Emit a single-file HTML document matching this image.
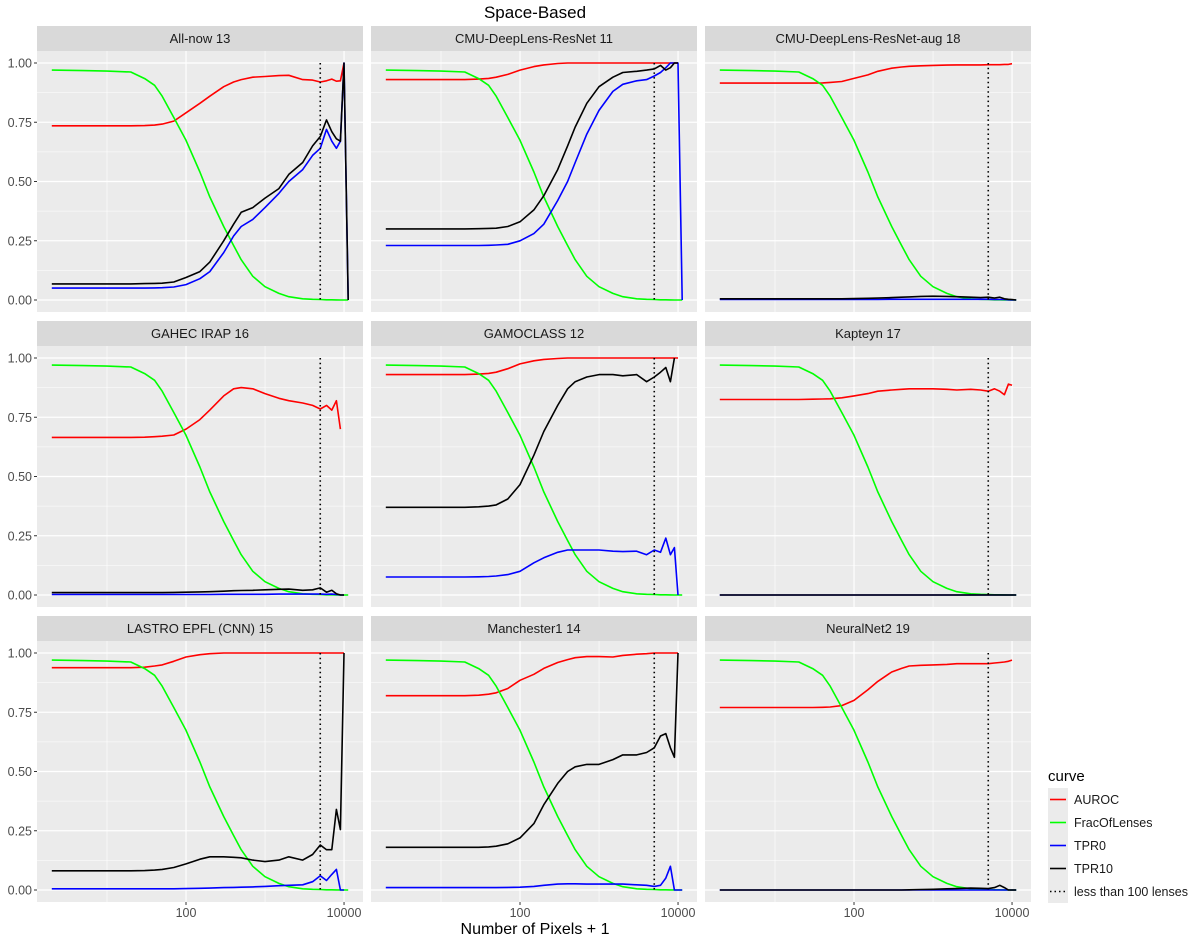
<!DOCTYPE html>
<html><head><meta charset="utf-8"><style>
body{margin:0;background:#fff;}
svg{display:block;font-family:"Liberation Sans",Arial,sans-serif;}
</style></head><body>
<svg id="chart" width="1200" height="940" viewBox="0 0 1200 940" xmlns="http://www.w3.org/2000/svg">
<text x="535" y="18" font-size="17" text-anchor="middle" fill="#000">Space-Based</text>
<text x="535" y="934" font-size="16" text-anchor="middle" fill="#000">Number of Pixels + 1</text>
<g id="panels"></g>
<g>
<text x="1048" y="781" font-size="15" fill="#000">curve</text>
<g><rect x="1048" y="788" width="20" height="23" fill="#ebebeb"/><line x1="1050" x2="1066" y1="799.5" y2="799.5" stroke="#ff0000" stroke-width="1.6"/><text x="1074" y="804" font-size="12.5" fill="#1a1a1a">AUROC</text></g>
<g><rect x="1048" y="811" width="20" height="23" fill="#ebebeb"/><line x1="1050" x2="1066" y1="822.5" y2="822.5" stroke="#00ff00" stroke-width="1.6"/><text x="1074" y="827" font-size="12.5" fill="#1a1a1a">FracOfLenses</text></g>
<g><rect x="1048" y="834" width="20" height="23" fill="#ebebeb"/><line x1="1050" x2="1066" y1="845.5" y2="845.5" stroke="#0000ff" stroke-width="1.6"/><text x="1074" y="850" font-size="12.5" fill="#1a1a1a">TPR0</text></g>
<g><rect x="1048" y="857" width="20" height="23" fill="#ebebeb"/><line x1="1050" x2="1066" y1="868.5" y2="868.5" stroke="#000" stroke-width="1.6"/><text x="1074" y="873" font-size="12.5" fill="#1a1a1a">TPR10</text></g>
<g><rect x="1048" y="880" width="20" height="23" fill="#ebebeb"/><line x1="1050" x2="1066" y1="891.5" y2="891.5" stroke="#000" stroke-width="1.6" stroke-dasharray="1.5,3"/><text x="1074" y="896" font-size="12.5" fill="#1a1a1a">less than 100 lenses</text></g>
</g>
</svg>
<script>
const xValues = [2,5,10,20,30,40,50,70,100,150,200,300,400,500,700,1000,1500,2000,3000,4000,5000,6000,7000,8000,9000,10000,11300];
const threshold = 5000;
const yTicks = [0,0.25,0.5,0.75,1];
const yTickLabels = ["0.00","0.25","0.50","0.75","1.00"];
const xTicks = [100,10000];
const xTickLabels = ["100","10000"];
const panelNames = ["All-now 13","CMU-DeepLens-ResNet 11","CMU-DeepLens-ResNet-aug 18","GAHEC IRAP 16","GAMOCLASS 12","Kapteyn 17","LASTRO EPFL (CNN) 15","Manchester1 14","NeuralNet2 19"];
const fracOfLenses = [0.97,0.968,0.966,0.962,0.934,0.906,0.86,0.77,0.674,0.54,0.435,0.31,0.23,0.17,0.10,0.056,0.028,0.014,0.005,0.003,0.002,0.001,0.001,0.0005,0,0,0];
const aurocP1 = [0.735,0.735,0.735,0.735,0.736,0.738,0.742,0.755,0.79,0.83,0.86,0.9,0.92,0.93,0.94,0.943,0.947,0.948,0.93,0.928,0.92,0.925,0.932,0.923,0.925,1.0,null];
const tpr10P1 = [0.068,0.068,0.068,0.068,0.069,0.07,0.071,0.076,0.095,0.12,0.16,0.25,0.32,0.37,0.39,0.43,0.47,0.53,0.58,0.65,0.69,0.76,0.71,0.68,0.67,1.0,0];
const tpr0P1 = [0.05,0.05,0.05,0.05,0.05,0.051,0.052,0.055,0.065,0.09,0.12,0.2,0.27,0.31,0.34,0.39,0.45,0.5,0.55,0.61,0.64,0.72,0.67,0.64,0.67,1.0,0];
const aurocP2 = [0.93,0.93,0.93,0.93,0.932,0.935,0.94,0.952,0.97,0.985,0.992,0.998,1,1,1,1,1,1,1,1,1,1,1,1,1,1,null];
const tpr10P2 = [0.30,0.30,0.30,0.30,0.301,0.302,0.303,0.31,0.33,0.38,0.44,0.55,0.65,0.73,0.83,0.9,0.94,0.96,0.965,0.97,0.975,0.99,0.97,0.98,1,1,null];
const tpr0P2 = [0.23,0.23,0.23,0.23,0.23,0.231,0.232,0.235,0.25,0.28,0.32,0.42,0.5,0.58,0.7,0.8,0.88,0.91,0.925,0.93,0.945,0.96,0.98,1,1,1,0];
const aurocP3 = [0.915,0.915,0.915,0.915,0.915,0.916,0.918,0.922,0.935,0.95,0.965,0.978,0.983,0.986,0.988,0.99,0.991,0.992,0.992,0.992,0.993,0.993,0.993,0.994,0.994,0.997,null];
const tpr10P3 = [0.005,0.005,0.005,0.005,0.005,0.005,0.005,0.005,0.006,0.007,0.008,0.01,0.012,0.013,0.015,0.016,0.015,0.014,0.012,0.01,0.012,0.008,0.012,0.005,0.003,0.002,0];
const tpr0P3 = [0.002,0.002,0.002,0.002,0.002,0.002,0.002,0.002,0.002,0.002,0.002,0.003,0.003,0.003,0.003,0.003,0.003,0.003,0.003,0.003,0.003,0.002,0.002,0.002,0.001,0,0];
const aurocP4 = [0.665,0.665,0.665,0.665,0.666,0.668,0.67,0.675,0.7,0.74,0.78,0.84,0.87,0.875,0.87,0.85,0.83,0.82,0.81,0.8,0.785,0.8,0.78,0.82,0.7,null,null];
const tpr10P4 = [0.01,0.01,0.01,0.01,0.01,0.01,0.01,0.011,0.012,0.013,0.014,0.016,0.018,0.019,0.02,0.022,0.024,0.025,0.02,0.022,0.03,0.012,0.02,0.005,0,0,null];
const tpr0P4 = [0.002,0.002,0.002,0.002,0.002,0.002,0.002,0.002,0.002,0.002,0.002,0.003,0.003,0.003,0.003,0.003,0.004,0.004,0.004,0.004,0.004,0.003,0.004,0.002,0,0,null];
const aurocP5 = [0.93,0.93,0.93,0.93,0.932,0.935,0.94,0.955,0.975,0.988,0.994,0.998,1,1,1,1,1,1,1,1,1,1,1,1,1,1,null];
const tpr10P5 = [0.37,0.37,0.37,0.37,0.372,0.375,0.38,0.405,0.466,0.59,0.69,0.80,0.87,0.90,0.92,0.93,0.93,0.925,0.93,0.90,0.92,0.94,0.96,0.90,1.0,null,null];
const tpr0P5 = [0.076,0.076,0.076,0.076,0.077,0.078,0.08,0.086,0.10,0.136,0.157,0.18,0.19,0.19,0.19,0.19,0.185,0.183,0.185,0.17,0.19,0.18,0.24,0.17,0.2,0,null];
const aurocP6 = [0.825,0.825,0.825,0.825,0.826,0.827,0.828,0.832,0.84,0.85,0.86,0.865,0.868,0.87,0.87,0.87,0.868,0.865,0.868,0.865,0.86,0.87,0.86,0.845,0.89,0.885,null];
const tpr10P6 = [0,0,0,0,0,0,0,0,0,0,0,0,0,0,0,0,0,0,0,0,0,0,0,0,0,0,0];
const tpr0P6 = [0,0,0,0,0,0,0,0,0,0,0,0,0,0,0,0,0,0,0,0,0,0,0,0,0,0,0];
const aurocP7 = [0.938,0.938,0.938,0.938,0.94,0.945,0.95,0.965,0.983,0.993,0.997,1,1,1,1,1,1,1,1,1,1,1,1,1,1,1,null];
const tpr10P7 = [0.081,0.081,0.081,0.081,0.082,0.084,0.087,0.095,0.11,0.13,0.14,0.14,0.138,0.136,0.126,0.12,0.126,0.14,0.126,0.15,0.19,0.17,0.17,0.34,0.255,1.0,null];
const tpr0P7 = [0.005,0.005,0.005,0.005,0.005,0.005,0.005,0.005,0.006,0.007,0.008,0.01,0.011,0.012,0.013,0.015,0.018,0.02,0.022,0.035,0.06,0.04,0.066,0.087,0,0,null];
const aurocP8 = [0.82,0.82,0.82,0.82,0.822,0.826,0.832,0.85,0.885,0.91,0.935,0.96,0.972,0.98,0.985,0.985,0.983,0.99,0.995,0.997,1,1,1,1,1,1,null];
const tpr10P8 = [0.18,0.18,0.18,0.18,0.18,0.182,0.185,0.195,0.22,0.28,0.36,0.45,0.5,0.52,0.53,0.53,0.55,0.57,0.57,0.58,0.6,0.65,0.66,0.6,0.56,1.0,null];
const tpr0P8 = [0.01,0.01,0.01,0.01,0.01,0.01,0.01,0.011,0.012,0.015,0.02,0.025,0.026,0.026,0.025,0.025,0.025,0.025,0.022,0.02,0.015,0.02,0.05,0.1,0,0,0];
const aurocP9 = [0.77,0.77,0.77,0.77,0.77,0.771,0.772,0.778,0.8,0.845,0.88,0.92,0.935,0.945,0.948,0.95,0.952,0.955,0.955,0.955,0.955,0.958,0.96,0.962,0.965,0.97,null];
const tpr10P9 = [0,0,0,0,0,0,0,0,0,0,0,0,0,0.001,0.002,0.003,0.005,0.006,0.008,0.007,0.006,0.01,0.02,0.01,0,0,0];
const tpr0P9 = [0,0,0,0,0,0,0,0,0,0,0,0,0,0,0,0,0,0,0,0,0,0,0,0,0,0,0];
const aurocSeries = [aurocP1,aurocP2,aurocP3,aurocP4,aurocP5,aurocP6,aurocP7,aurocP8,aurocP9];
const tpr0Series = [tpr0P1,tpr0P2,tpr0P3,tpr0P4,tpr0P5,tpr0P6,tpr0P7,tpr0P8,tpr0P9];
const tpr10Series = [tpr10P1,tpr10P2,tpr10P3,tpr10P4,tpr10P5,tpr10P6,tpr10P7,tpr10P8,tpr10P9];

const NS = "http://www.w3.org/2000/svg";
const colX = [37,371,705], rowY = [51,346,641], PW = 326, PH = 261;
const LMIN = 0.114, LMAX = 4.24;
function mk(tag, attrs, parent){const e=document.createElementNS(NS,tag);for(const k in attrs)e.setAttribute(k,attrs[k]);parent.appendChild(e);return e;}
const root = document.getElementById("panels");
panelNames.forEach((name,i)=>{
  const c=i%3, r=Math.floor(i/3), x0=colX[c], y0=rowY[r];
  const xs=v=>x0+(Math.log10(v)-LMIN)/(LMAX-LMIN)*PW;
  const ys=v=>y0+12+(1-v)*237;
  const g=mk("g",{},root);
  
  
  const strip=mk("rect",{x:x0,y:y0-25,width:PW,height:25,fill:"#d9d9d9"},g);
  
  
  const st=mk("text",{x:x0+PW/2,y:y0-8,"font-size":"13","text-anchor":"middle",fill:"#1a1a1a"},g);
  st.textContent=name;
  
  
  const bg=mk("rect",{x:x0,y:y0,width:PW,height:PH,fill:"#ebebeb"},g);
  
  
  [0.125,0.375,0.625,0.875].forEach(v=>mk("line",{x1:x0,x2:x0+PW,y1:ys(v),y2:ys(v),stroke:"#fff","stroke-width":0.6},g));
  [10,1000].forEach(v=>mk("line",{x1:xs(v),x2:xs(v),y1:y0,y2:y0+PH,stroke:"#fff","stroke-width":0.6},g));
  yTicks.forEach(v=>mk("line",{x1:x0,x2:x0+PW,y1:ys(v),y2:ys(v),stroke:"#fff","stroke-width":1.2},g));
  xTicks.forEach(v=>mk("line",{x1:xs(v),x2:xs(v),y1:y0,y2:y0+PH,stroke:"#fff","stroke-width":1.2},g));
  if(c===0){
    yTicks.forEach((v,k)=>{
      mk("line",{x1:x0-3,x2:x0,y1:ys(v),y2:ys(v),stroke:"#333","stroke-width":1},g);
      const t=mk("text",{x:x0-5,y:ys(v)+4.5,"font-size":"12.5","text-anchor":"end",fill:"#4d4d4d"},g);
      t.textContent=yTickLabels[k];
      
      
    });
  }
  if(r===2){
    xTicks.forEach((v,k)=>{
      mk("line",{x1:xs(v),x2:xs(v),y1:y0+PH,y2:y0+PH+3,stroke:"#333","stroke-width":1},g);
      const t=mk("text",{x:xs(v),y:y0+PH+15,"font-size":"12.5","text-anchor":"middle",fill:"#4d4d4d"},g);
      t.textContent=xTickLabels[k];
      
      
    });
  }
  const series=[[aurocSeries[i],"#ff0000","auroc-line"],[fracOfLenses,"#00ff00","fracoflenses-line"],[tpr0Series[i],"#0000ff","tpr0-line"],[tpr10Series[i],"#000000","tpr10-line"]];
  series.forEach(([vals,col,nm])=>{
    let d="";
    vals.forEach((v,k)=>{ if(v===null) return; d+=(d?"L":"M")+xs(xValues[k]).toFixed(1)+","+ys(v).toFixed(1); });
    const p=mk("path",{d:d,fill:"none",stroke:col,"stroke-width":1.6,"stroke-linejoin":"round"},g);
    
    
  });
  const tl=mk("line",{x1:xs(threshold),x2:xs(threshold),y1:ys(1),y2:ys(0),stroke:"#000","stroke-width":1.6,"stroke-dasharray":"1.5,3.2"},g);
  
  
});
</script>
</body></html>
